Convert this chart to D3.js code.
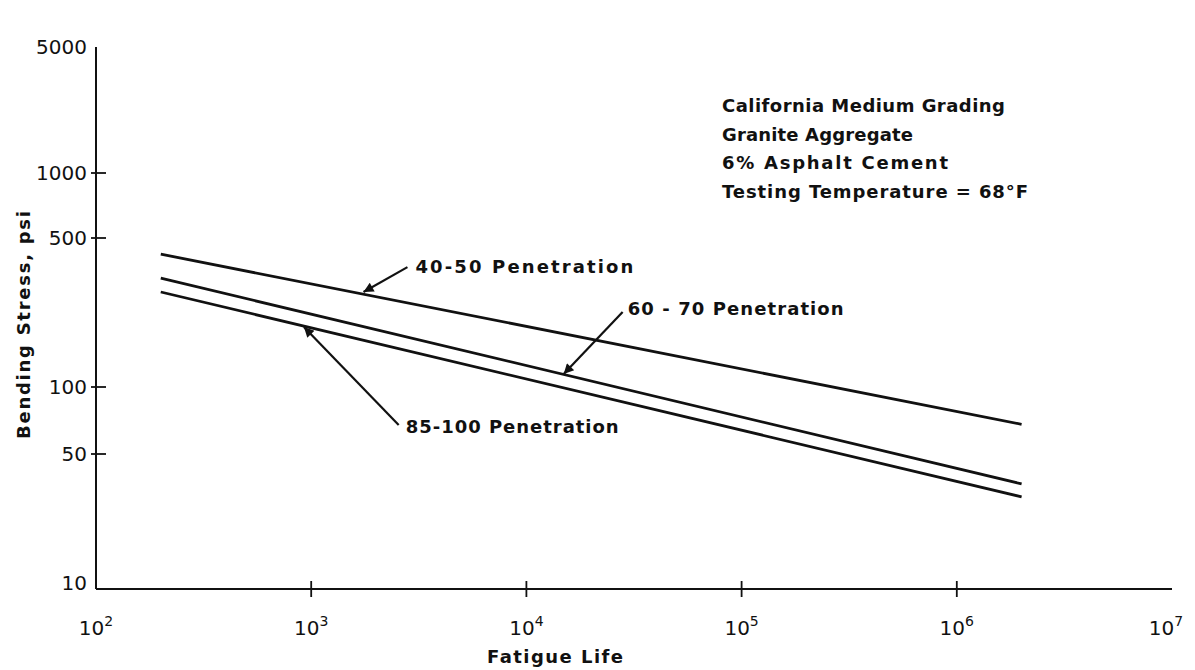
<!DOCTYPE html>
<html>
<head>
<meta charset="utf-8">
<script src="https://cdn.jsdelivr.net/npm/d3@7"></script>
<style>
  html, body { margin: 0; padding: 0; background: #fff; }
  svg { display: block; }
  text { font-family: "DejaVu Sans", sans-serif; fill: #111; }
</style>
</head>
<body>
<svg id="chart" width="1195" height="670"></svg>
<script>
// ---- data ----
const xTickValues = [1e2, 1e3, 1e4, 1e5, 1e6, 1e7];
const xTickExponents = ["2", "3", "4", "5", "6", "7"];
const yTickValues = [10, 50, 100, 500, 1000, 5000];
const yTickLabels = ["10", "50", "100", "500", "1000", "5000"];

const fatigueLife = [200, 2e6];
const series = [
  { name: "40-50 Penetration", values: [420, 68] },
  { name: "60-70 Penetration", values: [324, 35] },
  { name: "85-100 Penetration", values: [279, 30] }
];

// annotation arrows: head (on line) and tail, in data units
const arrowLabels = ["40-50 Penetration", "60 - 70 Penetration", "85-100 Penetration"];
const arrowHeadX = [1750, 14900, 925];
const arrowHeadY = [279, 115, 191];
const arrowTailX = [2800, 28000, 2550];
const arrowTailY = [365, 225, 67.5];

const noteLines = [
  "California Medium Grading",
  "Granite Aggregate",
  "6% Asphalt Cement",
  "Testing Temperature = 68\u00B0F"
];

// ---- scales ----
const svg = d3.select("#chart");
const x = d3.scaleLog().domain([1e2, 1e7]).range([96, 1172]);
const y = d3.scaleLog().domain(yTickValues).range([589, 454, 387, 238, 173, 47]);

// ---- axes ----
const axisG = svg.append("g");
axisG.append("line")
  .attr("x1", x(1e2)).attr("x2", x(1e7))
  .attr("y1", y(10)).attr("y2", y(10))
  .attr("stroke", "#111").attr("stroke-width", 2);
axisG.append("line")
  .attr("x1", x(1e2)).attr("x2", x(1e2))
  .attr("y1", y(10)).attr("y2", y(5000))
  .attr("stroke", "#111").attr("stroke-width", 2);

// x ticks
axisG.selectAll(".xtick")
  .data(xTickValues.slice(1, 5))
  .enter().append("line")
  .attr("x1", d => x(d)).attr("x2", d => x(d))
  .attr("y1", y(10) - 8).attr("y2", y(10) + 8)
  .attr("stroke", "#111").attr("stroke-width", 1.8);

const xl = axisG.selectAll(".xlab")
  .data(xTickValues)
  .enter().append("text")
  .attr("x", (d, i) => x(d) - (i === 5 ? 6 : 0))
  .attr("y", y(10) + 46)
  .attr("text-anchor", "middle")
  .attr("font-size", 20);
xl.append("tspan").text("10");
xl.append("tspan").attr("dy", -9).attr("font-size", 14).text((d, i) => xTickExponents[i]);

// y ticks
axisG.selectAll(".ytick")
  .data(yTickValues.filter(d => d !== 10 && d !== 5000))
  .enter().append("line")
  .attr("x1", x(1e2) - 5).attr("x2", x(1e2) + 10)
  .attr("y1", d => y(d)).attr("y2", d => y(d))
  .attr("stroke", "#111").attr("stroke-width", 1.8);

axisG.selectAll(".ylab")
  .data(yTickValues)
  .enter().append("text")
  .attr("x", x(1e2) - 9)
  .attr("y", d => y(d) + (d === 10 ? 1 : 7))
  .attr("text-anchor", "end")
  .attr("font-size", 20)
  .text((d, i) => yTickLabels[i]);

// axis titles
svg.append("text")
  .attr("transform", `translate(30, 325) rotate(-90)`)
  .attr("text-anchor", "middle")
  .attr("font-size", 18).attr("font-weight", "bold")
  .attr("textLength", 228).attr("lengthAdjust", "spacing")
  .text("Bending  Stress, psi");

svg.append("text")
  .attr("x", 555).attr("y", 663)
  .attr("text-anchor", "middle")
  .attr("font-size", 18).attr("font-weight", "bold")
  .attr("textLength", 136).attr("lengthAdjust", "spacing")
  .text("Fatigue  Life");

// ---- lines ----
const line = d3.line().x(d => x(d[0])).y(d => y(d[1]));
svg.selectAll(".series")
  .data(series)
  .enter().append("path")
  .attr("d", s => line(fatigueLife.map((f, i) => [f, s.values[i]])))
  .attr("fill", "none")
  .attr("stroke", "#111")
  .attr("stroke-width", 2.8);

// ---- arrows ----
svg.append("defs").append("marker")
  .attr("id", "arrow")
  .attr("viewBox", "0 0 10 10")
  .attr("refX", 10).attr("refY", 5)
  .attr("markerWidth", 15).attr("markerHeight", 10)
  .attr("markerUnits", "userSpaceOnUse")
  .attr("orient", "auto")
  .append("path")
  .attr("d", "M0,0 L10,5 L0,10 Z")
  .attr("fill", "#111");

svg.selectAll(".arrow")
  .data(arrowLabels)
  .enter().append("line")
  .attr("x1", (d, i) => x(arrowTailX[i]))
  .attr("y1", (d, i) => y(arrowTailY[i]))
  .attr("x2", (d, i) => x(arrowHeadX[i]))
  .attr("y2", (d, i) => y(arrowHeadY[i]))
  .attr("stroke", "#111").attr("stroke-width", 2.2)
  .attr("marker-end", "url(#arrow)");

const labelOffsets = [[8, 6], [5, 3], [7, 8]];
const labelWidths = [218, 216, 213];
svg.selectAll(".alabel")
  .data(arrowLabels)
  .enter().append("text")
  .attr("x", (d, i) => x(arrowTailX[i]) + labelOffsets[i][0])
  .attr("y", (d, i) => y(arrowTailY[i]) + labelOffsets[i][1])
  .attr("font-size", 18).attr("font-weight", "bold")
  .attr("textLength", (d, i) => labelWidths[i]).attr("lengthAdjust", "spacing")
  .text(d => d);

// ---- note ----
const noteWidths = [283, 191, 226, 306];
svg.selectAll(".note")
  .data(noteLines)
  .enter().append("text")
  .attr("x", 722)
  .attr("y", (d, i) => 112 + i * 28.5)
  .attr("font-size", 18).attr("font-weight", "bold")
  .attr("textLength", (d, i) => noteWidths[i]).attr("lengthAdjust", "spacing")
  .text(d => d);
</script>
</body>
</html>
